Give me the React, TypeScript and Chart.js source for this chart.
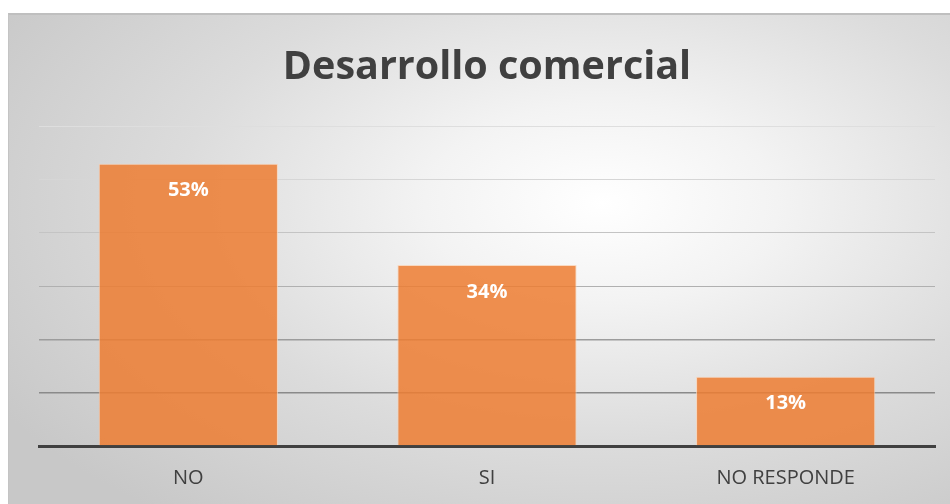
import React, { useEffect, useRef } from "react";
import { Chart, registerables } from "chart.js";

Chart.register(...registerables);

const categories = ["NO", "SI", "NO RESPONDE"];
const values = [53, 34, 13];
const valueLabels = ["53%", "34%", "13%"];
const yTicks = [0, 10, 20, 30, 40, 50, 60];
const titleText = "Desarrollo comercial";

const gridColors: Record<number, string> = {
  0: "rgba(0,0,0,0)",
  10: "#8a8a8a",
  20: "#9c9c9c",
  30: "#b0b0b0",
  40: "#c4c4c4",
  50: "#d6d6d6",
  60: "#dedede",
};

const labelPlugin = {
  id: "valueLabels",
  afterDatasetsDraw(chart: any) {
    const ctx = chart.ctx;
    const meta = chart.getDatasetMeta(0);
    ctx.save();
    ctx.fillStyle = "#ffffff";
    ctx.font = "bold 20px 'Open Sans'";
    ctx.textAlign = "center";
    ctx.textBaseline = "middle";
    meta.data.forEach((bar: any, i: number) => {
      ctx.fillText(valueLabels[i], bar.x, bar.y + 27);
    });
    ctx.restore();
  },
};

export default function App() {
  const ref = useRef<HTMLCanvasElement | null>(null);
  useEffect(() => {
    document.body.style.overflow = "hidden";
    if (!ref.current) return;
    const chart = new Chart(ref.current, {
      type: "bar",
      data: {
        labels: categories,
        datasets: [
          {
            data: values,
            backgroundColor: "rgba(237,125,49,0.85)",
            borderColor: "rgba(250,210,180,0.8)",
            borderWidth: 1,
            barPercentage: 0.6,
            categoryPercentage: 1,
          },
        ],
      },
      options: {
        animation: false,
        responsive: true,
        maintainAspectRatio: false,
        layout: { padding: { left: 30, right: 15, top: 0, bottom: 0 } },
        plugins: {
          legend: { display: false },
          tooltip: { enabled: false },
          title: {
            display: true,
            text: titleText,
            color: "#404040",
            font: { family: "'Open Sans'", size: 39.5, weight: "bold" },
            padding: { top: 29, bottom: 35 },
          },
        },
        scales: {
          x: {
            grid: { display: false, drawTicks: false },
            border: { display: true, color: "#404040", width: 3 },
            ticks: {
              color: "#404040",
              font: { family: "'Open Sans'", size: 20 },
              padding: 20,
            },
          },
          y: {
            min: 0,
            max: 60,
            afterBuildTicks: (axis: any) => {
              axis.ticks = yTicks.map((v) => ({ value: v }));
            },
            ticks: { display: false },
            grid: {
              drawTicks: false,
              color: (c: any) => gridColors[c.tick?.value] ?? "#cccccc",
              lineWidth: (c: any) => (c.tick?.value <= 20 ? 1.5 : 1),
            },
            border: { display: false },
          },
        },
      },
      plugins: [labelPlugin],
    });
    return () => chart.destroy();
  }, []);

  return (
    <div
      style={{
        position: "absolute",
        left: 8,
        top: 13,
        width: 942,
        height: 497,
        boxSizing: "border-box",
        borderTop: "2px solid #bfbfbf",
        borderLeft: "1px solid #c4c4c4",
        background:
          "radial-gradient(ellipse 75% 80% at 63% 38%, #ffffff 0%, #f3f3f3 25%, #dcdcdc 60%, #c8c8c8 100%)",
      }}
    >
      <canvas ref={ref} />
    </div>
  );
}
